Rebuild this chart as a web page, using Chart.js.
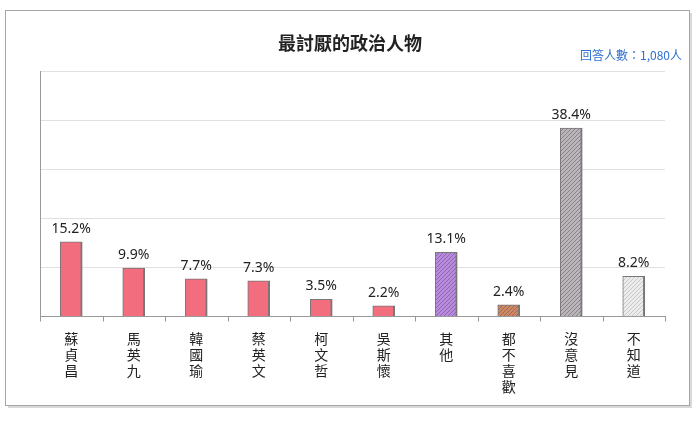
<!DOCTYPE html>
<html><head><meta charset="utf-8">
<script src="https://cdn.jsdelivr.net/npm/chart.js@4"></script>
<style>html,body{margin:0;padding:0;background:#fff}#wrap{width:700px;height:421px;position:relative}</style>
</head><body><div id="wrap"><canvas id="c" width="700" height="421"></canvas></div>
<script>
const categories=["蘇貞昌","馬英九","韓國瑜","蔡英文","柯文哲","吳斯懷","其他","都不喜歡","沒意見","不知道"];
const values=[15.2,9.9,7.7,7.3,3.5,2.2,13.1,2.4,38.4,8.2];
const yTicks=[0,10,20,30,40,50];
const fillColors=["#f26d7d","#f26d7d","#f26d7d","#f26d7d","#f26d7d","#f26d7d","#b98be0","#d08a60","#b8b6b6","#ececec"];
const hatched=[false,false,false,false,false,false,true,true,true,true];
function pattern(bg,line){const p=document.createElement('canvas');p.width=4;p.height=4;const g=p.getContext('2d');g.fillStyle=bg;g.fillRect(0,0,4,4);g.strokeStyle=line;g.lineWidth=1;g.beginPath();g.moveTo(0,4);g.lineTo(4,0);g.moveTo(-1,1);g.lineTo(1,-1);g.moveTo(3,5);g.lineTo(5,3);g.stroke();return g.createPattern(p,'repeat');}
const ctx0=document.getElementById('c').getContext('2d');
const bg=fillColors.map((c,i)=>hatched[i]?pattern(c,i===9?'#c8c8c8':'rgba(90,60,100,0.45)'):c);
const frame={id:'frame',beforeDraw(ch){const g=ch.ctx;g.save();g.fillStyle='#d9d9d9';g.fillRect(8,13,684,395);g.fillStyle='#fff';g.fillRect(5,10,684,395);g.strokeStyle='#a6a6a6';g.lineWidth=1;g.strokeRect(5.5,10.5,684,395);g.restore();},
afterDraw(ch){const g=ch.ctx;g.save();g.font='bold 18px "Noto Sans CJK TC"';g.fillStyle='#222';g.textAlign='center';g.fillText('最討厭的政治人物',350,50);g.font='12px "Noto Sans CJK TC"';g.fillStyle='#2e6fd1';g.textAlign='right';g.fillText('回答人數：1,080人',682,60);
const m=ch.getDatasetMeta(0);g.font='14px "Noto Sans"';g.fillStyle='#222';g.textAlign='center';m.data.forEach((b,i)=>{g.fillText(values[i].toFixed(1)+'%',b.x,b.y-9);});
const a=ch.chartArea;g.strokeStyle='#999';for(let i=0;i<=categories.length;i++){const x=Math.round(a.left+(a.right-a.left)*i/categories.length)+0.5;g.beginPath();g.moveTo(x,a.bottom);g.lineTo(x,a.bottom+5);g.stroke();}
g.restore();}};
new Chart(ctx0,{type:'bar',data:{labels:categories.map(s=>s.split('')),datasets:[{data:values,backgroundColor:bg,borderColor:'#777',borderWidth:{top:1,left:1,right:2,bottom:0},barThickness:22}]},
options:{responsive:false,animation:false,devicePixelRatio:1,layout:{padding:{left:40,right:35,top:71,bottom:20}},
plugins:{legend:{display:false},tooltip:{enabled:false}},
scales:{y:{min:0,max:50,afterBuildTicks:s=>{s.ticks=yTicks.map(v=>({value:v}));},ticks:{display:false},grid:{color:'#e0e0e0',drawTicks:false},border:{color:'#999'}},
x:{grid:{display:false},border:{color:'#999'},ticks:{font:{size:14,family:'"Noto Sans CJK TC"',lineHeight:1.15},color:'#222',padding:6,maxRotation:0}}}},plugins:[frame]});
</script></body></html>
